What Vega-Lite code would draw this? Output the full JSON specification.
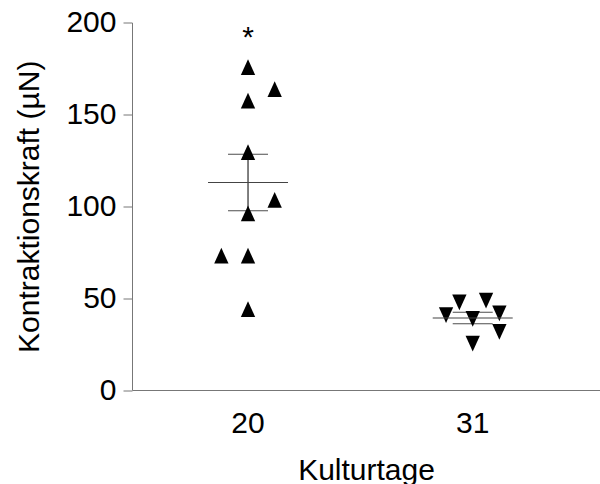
{
  "$schema": "https://vega.github.io/schema/vega-lite/v6.json",
  "width": 468,
  "height": 367.5,
  "autosize": {"type": "none"},
  "padding": {"left": 132, "top": 22.5, "right": 0, "bottom": 94},
  "background": "white",
  "config": {
    "view": {"stroke": null},
    "font": "Liberation Sans",
    "axis": {
      "labelFont": "Liberation Sans",
      "titleFont": "Liberation Sans",
      "labelFontSize": 30,
      "titleFontSize": 30,
      "titleFontWeight": "normal",
      "labelColor": "black",
      "titleColor": "black",
      "domainColor": "#777777",
      "tickColor": "#777777",
      "grid": false
    }
  },
  "datasets": {
    "points": [
      {"Kulturtage": "20", "slot": "c", "Kraft": 175.7},
      {"Kulturtage": "20", "slot": "e", "Kraft": 163.7},
      {"Kulturtage": "20", "slot": "c", "Kraft": 157.5},
      {"Kulturtage": "20", "slot": "c", "Kraft": 129.4},
      {"Kulturtage": "20", "slot": "e", "Kraft": 103.5},
      {"Kulturtage": "20", "slot": "c", "Kraft": 96.1},
      {"Kulturtage": "20", "slot": "a", "Kraft": 73.1},
      {"Kulturtage": "20", "slot": "c", "Kraft": 73.1},
      {"Kulturtage": "20", "slot": "c", "Kraft": 44.0},
      {"Kulturtage": "31", "slot": "b", "Kraft": 47.7},
      {"Kulturtage": "31", "slot": "d", "Kraft": 48.6},
      {"Kulturtage": "31", "slot": "a", "Kraft": 40.8},
      {"Kulturtage": "31", "slot": "c", "Kraft": 38.7},
      {"Kulturtage": "31", "slot": "e", "Kraft": 41.7},
      {"Kulturtage": "31", "slot": "e", "Kraft": 31.6},
      {"Kulturtage": "31", "slot": "c", "Kraft": 25.2}
    ],
    "sig": [
      {"Kulturtage": "20", "sig": "*"}
    ]
  },
  "encoding": {
    "x": {
      "field": "Kulturtage",
      "type": "nominal",
      "sort": ["20", "31"],
      "scale": {"type": "band", "domain": ["20", "31"], "paddingInner": 0.644, "paddingOuter": 0.3634, "align": 0.4655},
      "axis": {"title": "Kulturtage", "labelAngle": 0, "ticks": false, "tickSize": 0, "labelPadding": 18, "titlePadding": 17}
    }
  },
  "layer": [
    {
      "data": {"name": "points"},
      "mark": {"type": "point", "filled": true, "opacity": 1, "size": 205, "color": "black", "strokeWidth": 0},
      "encoding": {
        "xOffset": {"field": "slot", "type": "nominal", "scale": {"type": "point", "domain": ["a", "b", "c", "d", "e"], "padding": 2.1}},
        "y": {
          "field": "Kraft",
          "type": "quantitative",
          "title": "Kontraktionskraft (µN)",
          "scale": {"domain": [0, 200], "nice": false, "zero": true},
          "axis": {"values": [0, 50, 100, 150, 200], "tickSize": 9, "labelPadding": 7, "titlePadding": 21}
        },
        "shape": {
          "field": "Kulturtage",
          "type": "nominal",
          "scale": {"domain": ["20", "31"], "range": ["M0,-1.1L1,1.1L-1,1.1Z", "M0,1.1L1,-1.1L-1,-1.1Z"]},
          "legend": null
        }
      }
    },
    {
      "data": {"name": "points"},
      "mark": {"type": "errorbar", "extent": "stderr", "color": "black", "ticks": {"size": 40, "color": "black"}},
      "encoding": {
        "y": {"field": "Kraft", "type": "quantitative", "title": "Kontraktionskraft (µN)"}
      }
    },
    {
      "data": {"name": "points"},
      "mark": {"type": "tick", "orient": "horizontal", "size": 80, "thickness": 1, "color": "#444444"},
      "encoding": {
        "y": {"aggregate": "mean", "field": "Kraft", "type": "quantitative", "title": "Kontraktionskraft (µN)"}
      }
    },
    {
      "data": {"name": "sig"},
      "mark": {"type": "text", "fontSize": 30, "baseline": "top", "dy": 0, "color": "black"},
      "encoding": {
        "y": {"datum": 200, "type": "quantitative", "title": "Kontraktionskraft (µN)"},
        "text": {"field": "sig"}
      }
    }
  ]
}
